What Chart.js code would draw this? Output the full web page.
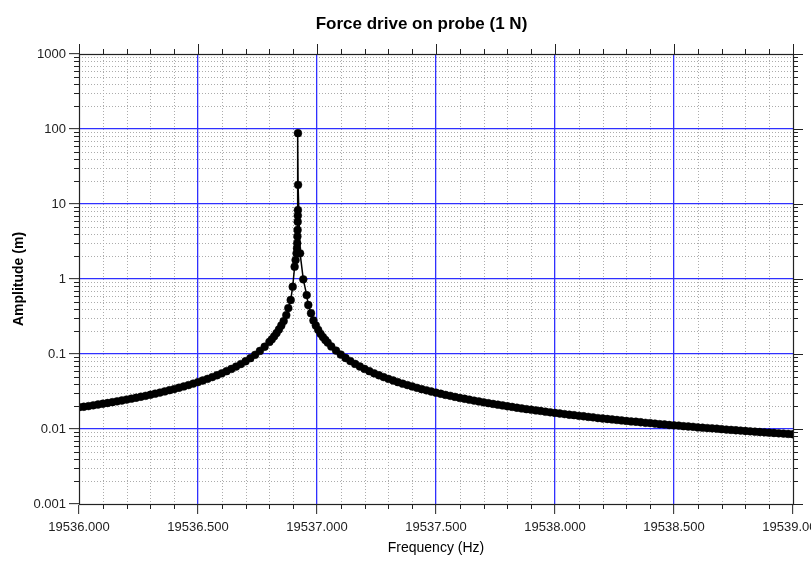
<!DOCTYPE html>
<html>
<head>
<meta charset="utf-8">
<title>Force drive on probe (1 N)</title>
<script src="https://cdn.jsdelivr.net/npm/chart.js@4.4.0/dist/chart.umd.min.js"></script>
<style>
  html, body { margin: 0; padding: 0; background: #fff; }
</style>
</head>
<body>
<canvas id="chart" width="811" height="562"></canvas>
<script>
// frequency (Hz) and amplitude (m)
const freqHz = [
  19536.00, 19536.02, 19536.04, 19536.06, 19536.08, 19536.10, 19536.12, 19536.14,
  19536.16, 19536.18, 19536.20, 19536.22, 19536.24, 19536.26, 19536.28, 19536.30,
  19536.32, 19536.34, 19536.36, 19536.38, 19536.40, 19536.42, 19536.44, 19536.46,
  19536.48, 19536.50, 19536.52, 19536.54, 19536.56, 19536.58, 19536.60, 19536.62,
  19536.64, 19536.66, 19536.68, 19536.70, 19536.72, 19536.74, 19536.76, 19536.78,
  19536.80, 19536.81, 19536.82, 19536.83, 19536.84, 19536.85, 19536.86, 19536.871,
  19536.8794, 19536.8895, 19536.8979, 19536.906, 19536.910, 19536.914, 19536.916, 19536.917,
  19536.9178, 19536.9185, 19536.919, 19536.9195, 19536.9198, 19536.920, 19536.9205, 19536.929,
  19536.9424, 19536.9567, 19536.9634, 19536.9748, 19536.985, 19536.995, 19537.005, 19537.015,
  19537.025, 19537.035, 19537.045, 19537.06, 19537.08,
  19537.10, 19537.12, 19537.14, 19537.16, 19537.18, 19537.20, 19537.22, 19537.24,
  19537.26, 19537.28, 19537.30, 19537.32, 19537.34, 19537.36, 19537.38, 19537.40,
  19537.42, 19537.44, 19537.46, 19537.48, 19537.50, 19537.52, 19537.54, 19537.56,
  19537.58, 19537.60, 19537.62, 19537.64, 19537.66, 19537.68, 19537.70, 19537.72,
  19537.74, 19537.76, 19537.78, 19537.80, 19537.82, 19537.84, 19537.86, 19537.88,
  19537.90, 19537.92, 19537.94, 19537.96, 19537.98, 19538.00, 19538.02, 19538.04,
  19538.06, 19538.08, 19538.10, 19538.12, 19538.14, 19538.16, 19538.18, 19538.20,
  19538.22, 19538.24, 19538.26, 19538.28, 19538.30, 19538.32, 19538.34, 19538.36,
  19538.38, 19538.40, 19538.42, 19538.44, 19538.46, 19538.48, 19538.50, 19538.52,
  19538.54, 19538.56, 19538.58, 19538.60, 19538.62, 19538.64, 19538.66, 19538.68,
  19538.70, 19538.72, 19538.74, 19538.76, 19538.78, 19538.80, 19538.82, 19538.84,
  19538.86, 19538.88, 19538.90, 19538.92, 19538.94, 19538.96, 19538.98, 19539.00
];
const amplitude = [
  0.0195, 0.0198, 0.0202, 0.0207, 0.0212, 0.0217, 0.0222, 0.0228,
  0.0234, 0.0240, 0.0247, 0.0254, 0.0261, 0.0269, 0.0277, 0.0286,
  0.0296, 0.0306, 0.0317, 0.0329, 0.0341, 0.0355, 0.0369, 0.0385,
  0.0403, 0.0422, 0.0443, 0.0466, 0.0492, 0.0521, 0.0553, 0.0590,
  0.0632, 0.0680, 0.0735, 0.0800, 0.0880, 0.0975, 0.110, 0.125,
  0.145, 0.157, 0.172, 0.190, 0.212, 0.240, 0.275, 0.33,
  0.41, 0.525, 0.79, 1.46, 1.79, 2.2, 2.57, 3.0,
  3.7, 4.5, 5.8, 7.0, 8.3, 88, 18, 2.2,
  0.99, 0.61, 0.45, 0.35, 0.28, 0.24, 0.21, 0.186,
  0.168, 0.154, 0.142, 0.126, 0.111,
  0.0983, 0.0885, 0.0805, 0.0738, 0.0681, 0.0632, 0.0590, 0.0553,
  0.0521, 0.0492, 0.0466, 0.0443, 0.0421, 0.0402, 0.0385, 0.0369,
  0.0354, 0.0340, 0.0328, 0.0316, 0.0305, 0.0295, 0.0285, 0.0277,
  0.0268, 0.0260, 0.0253, 0.0246, 0.0239, 0.0233, 0.0227, 0.0221,
  0.0216, 0.0211, 0.0206, 0.0201, 0.0197, 0.0192, 0.0188, 0.0184,
  0.0181, 0.0177, 0.0174, 0.0170, 0.0167, 0.0164, 0.0161, 0.0158,
  0.0155, 0.0153, 0.0150, 0.0148, 0.0145, 0.0143, 0.0140, 0.0138,
  0.0136, 0.0134, 0.0132, 0.0130, 0.0128, 0.0126, 0.0125, 0.0123,
  0.0121, 0.0120, 0.0118, 0.0116, 0.0115, 0.0113, 0.0112, 0.0111,
  0.0109, 0.0108, 0.0107, 0.0105, 0.0104, 0.0103, 0.0102, 0.0101,
  0.00994, 0.00983, 0.00973, 0.00962, 0.00952, 0.00941, 0.00932, 0.00922,
  0.00912, 0.00903, 0.00894, 0.00885, 0.00876, 0.00868, 0.00859, 0.00851
];

const xTicks = [19536, 19536.5, 19537, 19537.5, 19538, 19538.5, 19539];
const yTicks = [0.001, 0.01, 0.1, 1, 10, 100, 1000];
const yTickLabels = ["0.001", "0.01", "0.1", "1", "10", "100", "1000"];

const blue = "#3030ff";
const axisColor = "#222";
const font = "'Liberation Sans', Arial, sans-serif";

// minor grid (dotted) under everything, extra ticks + frame on top
const framePlugin = {
  id: "frame",
  afterLayout(chart) {
    // title sits a little right of the canvas centre in the original
    const t = chart.titleBlock;
    if (t) { t.left += 25; t.right += 25; }
  },
  beforeDraw(chart) {
    const { ctx, chartArea: a, scales: { x, y } } = chart;
    ctx.save();
    ctx.strokeStyle = "#acacac";
    ctx.lineWidth = 1;
    ctx.setLineDash([1, 2]);
    ctx.beginPath();
    for (let i = 1; i < 30; i++) {
      if (i % 5 === 0) continue;
      const px = Math.round(x.getPixelForValue(xTicks[0] + i * 0.1)) + 0.5;
      ctx.moveTo(px, a.top);
      ctx.lineTo(px, a.bottom);
    }
    for (let d = 0; d < yTicks.length - 1; d++) {
      for (let m = 2; m <= 9; m++) {
        const py = Math.round(y.getPixelForValue(m * yTicks[d])) + 0.5;
        ctx.moveTo(a.left, py);
        ctx.lineTo(a.right, py);
      }
    }
    ctx.stroke();
    ctx.restore();
  },
  afterDraw(chart) {
    const { ctx, chartArea: a, scales: { x, y } } = chart;
    ctx.save();
    ctx.strokeStyle = axisColor;
    ctx.lineWidth = 1;
    ctx.beginPath();
    // x ticks: minor on bottom, minor + major on top
    for (let i = 0; i <= 30; i++) {
      const px = Math.round(x.getPixelForValue(xTicks[0] + i * 0.1)) + 0.5;
      const len = i % 5 === 0 ? 10 : 5;
      ctx.moveTo(px, a.top);
      ctx.lineTo(px, a.top - len);
      if (i % 5 !== 0) {
        ctx.moveTo(px, a.bottom);
        ctx.lineTo(px, a.bottom + 5);
      }
    }
    // y ticks: minor on left, minor + major on right
    for (let d = 0; d < yTicks.length; d++) {
      const py = Math.round(y.getPixelForValue(yTicks[d])) + 0.5;
      ctx.moveTo(a.right, py);
      ctx.lineTo(a.right + 10, py);
      if (d === yTicks.length - 1) break;
      for (let m = 2; m <= 9; m++) {
        const pm = Math.round(y.getPixelForValue(m * yTicks[d])) + 0.5;
        ctx.moveTo(a.left, pm);
        ctx.lineTo(a.left - 5, pm);
        ctx.moveTo(a.right, pm);
        ctx.lineTo(a.right + 5, pm);
      }
    }
    ctx.stroke();
    ctx.lineWidth = 1.2;
    ctx.strokeRect(Math.round(a.left) + 0.5, Math.round(a.top) + 0.5,
      Math.round(a.right - a.left), Math.round(a.bottom - a.top));
    ctx.restore();
  }
};

const points = freqHz.map((f, i) => ({ x: f, y: amplitude[i] }));

new Chart(document.getElementById("chart"), {
  type: "line",
  data: {
    datasets: [{
      label: "Amplitude",
      data: points,
      borderColor: "#000",
      borderWidth: 1.5,
      pointRadius: 3.9,
      pointBackgroundColor: "#000",
      pointBorderColor: "#000",
      pointBorderWidth: 0.5,
      tension: 0,
    }],
  },
  options: {
    responsive: false,
    animation: false,
    layout: { padding: { left: 0, right: 18, top: 0, bottom: 0 } },
    plugins: {
      legend: { display: false },
      tooltip: { enabled: false },
      title: {
        display: true,
        text: "Force drive on probe (1 N)",
        color: "#000",
        font: { family: font, size: 17, weight: "bold", lineHeight: 1.2 },
        padding: { top: 14, bottom: 19.6 },
      },
    },
    scales: {
      x: {
        type: "linear",
        position: "bottom",
        min: xTicks[0],
        max: xTicks[xTicks.length - 1],
        afterBuildTicks: (scale) => { scale.ticks = xTicks.map((v) => ({ value: v })); },
        afterFit: (scale) => {
          scale.height = 58;
          scale.paddingLeft = 0;
          scale.paddingRight = 0;
        },
        ticks: {
          autoSkip: false,
          maxRotation: 0,
          padding: 6,
          color: "#222",
          font: { family: font, size: 13 },
          callback: (v) => Number(v).toFixed(3),
        },
        grid: {
          color: (c) => (c.index === 0 || c.index === xTicks.length - 1 ? "rgba(0,0,0,0)" : blue),
          lineWidth: 1.3,
          tickColor: axisColor,
          tickWidth: 1,
          tickLength: 10,
        },
        border: { color: axisColor, width: 1 },
        title: {
          display: true,
          text: "Frequency (Hz)",
          color: "#000",
          font: { family: font, size: 14, lineHeight: 1.2 },
          padding: { top: 0, bottom: 5 },
        },
      },
      y: {
        type: "logarithmic",
        position: "left",
        min: yTicks[0],
        max: yTicks[yTicks.length - 1],
        afterBuildTicks: (scale) => { scale.ticks = yTicks.map((v) => ({ value: v })); },
        afterFit: (scale) => {
          scale.width = 79;
          scale.paddingTop = 0;
          scale.paddingBottom = 0;
        },
        ticks: {
          padding: 3,
          color: "#222",
          font: { family: font, size: 13 },
          callback: (v) => {
            const i = yTicks.indexOf(v);
            return i >= 0 ? yTickLabels[i] : "";
          },
        },
        grid: {
          color: (c) => (c.index === 0 || c.index === yTicks.length - 1 ? "rgba(0,0,0,0)" : blue),
          lineWidth: 1.3,
          tickColor: axisColor,
          tickWidth: 1,
          tickLength: 10,
        },
        border: { color: axisColor, width: 1 },
        title: {
          display: true,
          text: "Amplitude (m)",
          color: "#000",
          font: { family: font, size: 14, weight: "bold", lineHeight: 1.2 },
          padding: { top: 11, bottom: 0 },
        },
      },
    },
  },
  plugins: [framePlugin],
});
</script>
</body>
</html>
